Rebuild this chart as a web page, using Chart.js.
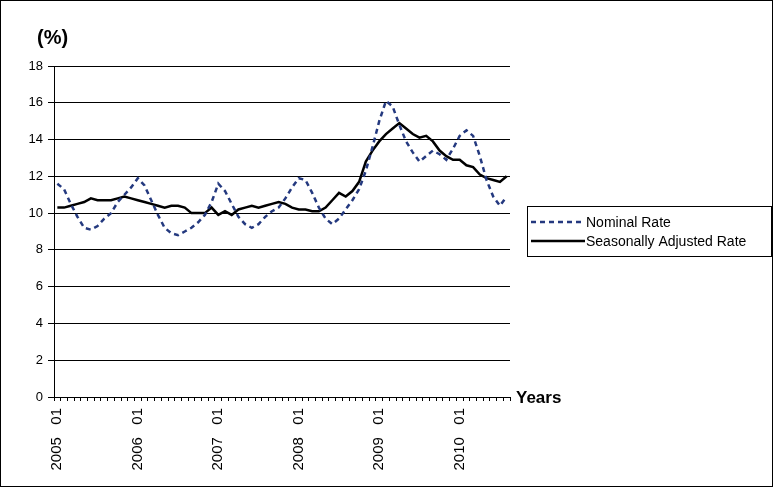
<!DOCTYPE html>
<html><head><meta charset="utf-8">
<script src="https://cdn.jsdelivr.net/npm/chart.js@4/dist/chart.umd.min.js"></script>
<style>html,body{margin:0;padding:0;background:#fff}#wrap{width:773px;height:487px;position:relative}</style>
</head><body><div id="wrap"><canvas id="c" width="773" height="487"></canvas></div>
<script>
// ---- data ----
const years = ['2005','2006','2007','2008','2009','2010'];
const monthCodes = ['01','02','03','04','05','06','07','08','09','10','11','12'];
const lastYearMonths = 8; // 2010: Jan..Aug
const yTicks = [0,2,4,6,8,10,12,14,16,18];
const seriesNames = ['Nominal Rate','Seasonally Adjusted Rate'];
const yAxisTitle = '(%)';
const xAxisTitle = 'Years';

const nominalRate = [
  11.6, 11.3, 10.5, 9.8, 9.2, 9.1, 9.3, 9.7, 10.0, 10.6, 11.0, 11.4,
  11.9, 11.5, 10.7, 9.9, 9.2, 8.9, 8.8, 9.0, 9.2, 9.5, 9.9, 10.6,
  11.6, 11.2, 10.5, 9.8, 9.4, 9.2, 9.4, 9.8, 10.1, 10.3, 10.8, 11.4,
  11.9, 11.8, 11.1, 10.3, 9.7, 9.4, 9.7, 10.2, 10.7, 11.3, 12.3, 13.6,
  15.0, 16.1, 15.8, 14.8, 13.9, 13.3, 12.8, 13.1, 13.4, 13.2, 12.9, 13.5,
  14.2, 14.5, 14.2, 13.1, 11.8, 10.9, 10.4, 10.9
];
const seasonallyAdjusted = [
  10.3, 10.3, 10.4, 10.5, 10.6, 10.8, 10.7, 10.7, 10.7, 10.8, 10.9, 10.8,
  10.7, 10.6, 10.5, 10.4, 10.3, 10.4, 10.4, 10.3, 10.0, 10.0, 10.0, 10.3,
  9.9, 10.1, 9.9, 10.2, 10.3, 10.4, 10.3, 10.4, 10.5, 10.6, 10.5, 10.3,
  10.2, 10.2, 10.1, 10.1, 10.3, 10.7, 11.1, 10.9, 11.2, 11.7, 12.8, 13.4,
  13.9, 14.3, 14.6, 14.9, 14.6, 14.3, 14.1, 14.2, 13.9, 13.4, 13.1, 12.9,
  12.9, 12.6, 12.5, 12.1, 11.9, 11.8, 11.7, 12.0
];

const categories = [];
years.forEach((y, yi) => {
  const n = yi === years.length - 1 ? lastYearMonths : 12;
  for (let m = 0; m < n; m++) categories.push(y + '   ' + monthCodes[m]);
});

const FONT = "'Liberation Sans', Arial, sans-serif";

const decor = {
  id: 'decor',
  afterDraw(chart) {
    const ctx = chart.ctx;
    ctx.save();
    // outer border
    ctx.strokeStyle = '#000'; ctx.lineWidth = 1;
    ctx.strokeRect(0.5, 0.5, 772, 486);
    // axis titles
    ctx.fillStyle = '#000';
    ctx.font = 'bold 20px ' + FONT;
    ctx.textBaseline = 'middle'; ctx.textAlign = 'left';
    ctx.fillText(yAxisTitle, 37, 38);
    ctx.font = 'bold 17px ' + FONT;
    ctx.fillText(xAxisTitle, chart.chartArea.right + 6, chart.chartArea.bottom + 1);
    // legend
    const bx = 527.5, by = 206.5, bw = 244, bh = 50;
    ctx.fillStyle = '#fff'; ctx.fillRect(bx, by, bw, bh);
    ctx.strokeStyle = '#000'; ctx.lineWidth = 1; ctx.strokeRect(bx, by, bw, bh);
    chart.data.datasets.forEach((ds, i) => {
      const yy = 222 + i * 19;
      ctx.beginPath();
      ctx.strokeStyle = ds.borderColor; ctx.lineWidth = ds.borderWidth;
      ctx.setLineDash(ds.borderDash || []);
      ctx.moveTo(531, yy); ctx.lineTo(585, yy); ctx.stroke();
      ctx.setLineDash([]);
      ctx.fillStyle = '#000';
      ctx.font = '14px ' + FONT;
      ctx.textAlign = 'left'; ctx.textBaseline = 'middle';
      ctx.fillText(ds.label, 586, yy + 1);
    });
    ctx.restore();
  }
};

new Chart(document.getElementById('c'), {
  type: 'line',
  data: {
    labels: categories,
    datasets: [
      { label: seriesNames[0], data: nominalRate, borderColor: '#24397f', borderWidth: 2.5,
        borderDash: [5, 4], pointRadius: 0, tension: 0, fill: false },
      { label: seriesNames[1], data: seasonallyAdjusted, borderColor: '#000', borderWidth: 2.5,
        pointRadius: 0, tension: 0, fill: false }
    ]
  },
  options: {
    responsive: false, animation: false, devicePixelRatio: 1,
    layout: { padding: { top: 66, right: 263, left: 0, bottom: 0 } },
    plugins: { legend: { display: false }, tooltip: { enabled: false }, title: { display: false } },
    scales: {
      x: {
        type: 'category', offset: true,
        grid: { display: true, drawOnChartArea: false, drawTicks: true, tickLength: 4, color: '#000', offset: true },
        border: { display: true, color: '#000', width: 1 },
        ticks: { autoSkip: false, maxRotation: 90, minRotation: 90, padding: 7, color: '#000',
          font: { family: FONT, size: 15 },
          callback: (v, i) => categories[i].endsWith(' 01') ? categories[i] : '' },
        afterFit: s => { s.height = 90; }
      },
      y: {
        min: 0, max: 18,
        afterBuildTicks: s => { s.ticks = yTicks.map(v => ({ value: v })); },
        grid: { color: '#000', lineWidth: 1, tickLength: 6, drawTicks: true },
        border: { display: true, color: '#000', width: 1 },
        ticks: { padding: 5, color: '#000', font: { family: FONT, size: 13 } },
        afterFit: s => { s.width = 54; }
      }
    }
  },
  plugins: [decor]
});
</script></body></html>
